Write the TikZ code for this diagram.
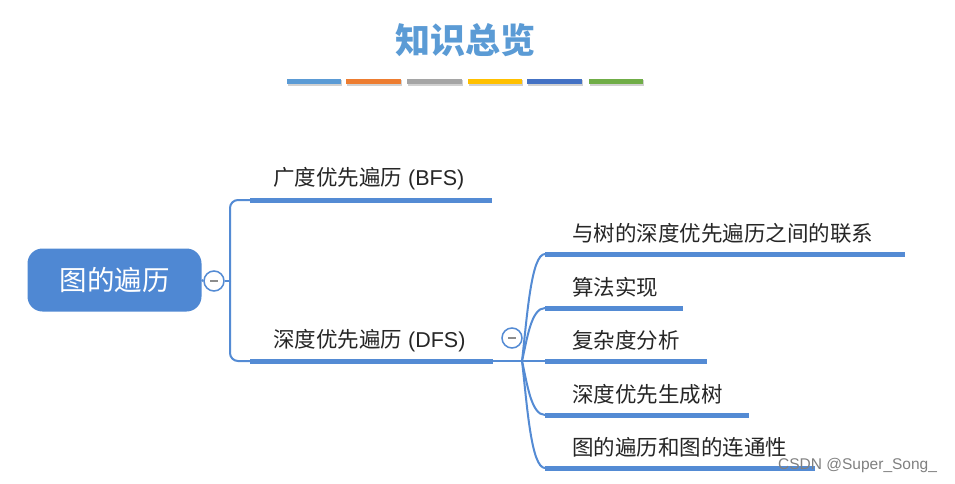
\documentclass[tikz,border=0pt]{standalone}
\usepackage{fontspec}
\setmainfont{Noto Sans CJK SC}
\newfontfamily\wmfont{Liberation Sans}
\definecolor{mapblue}{RGB}{84,139,212}
\definecolor{rootblue}{RGB}{79,136,211}
\definecolor{titleblue}{RGB}{91,155,213}
\definecolor{barA}{RGB}{91,155,213}
\definecolor{barB}{RGB}{237,125,49}
\definecolor{barC}{RGB}{165,165,165}
\definecolor{barD}{RGB}{255,192,0}
\definecolor{barE}{RGB}{68,114,196}
\definecolor{barF}{RGB}{112,173,71}
\begin{document}
\begin{tikzpicture}[x=1pt,y=-1pt,
  thinconn/.style={draw=mapblue, line width=2pt},
  underline/.style={draw=mapblue, line width=5pt},
  topictext/.style={anchor=west, inner sep=0pt, font=\fontsize{21.5}{26}\selectfont, text=black!85},
  collapser/.style={circle, draw=mapblue, line width=1.5pt, fill=white, minimum size=20pt, inner sep=0pt},
  minussign/.style={draw=black!45, line width=1.3pt}
]
\useasboundingbox (0,0) rectangle (955,484);
\fill[white] (0,0) rectangle (955,484);

% title
\node[font=\fontsize{35}{40}\selectfont\bfseries, text=titleblue, inner sep=0pt] (title) at (465,40) {知识总览};

% coloured bars
\foreach \xa/\xb/\c in {287/341/barA, 346/401/barB, 407/462/barC, 468/522/barD, 527/582/barE, 589/643/barF}{
  \fill[black!18] (\xa+1,80.5) rectangle (\xb+1,86.5);
  \fill[\c] (\xa,79) rectangle (\xb,84.5);
}

% root
\node[rounded corners=15pt, fill=rootblue, minimum width=174pt, minimum height=63pt,
      text=white, font=\fontsize{27.5}{32}\selectfont, inner sep=0pt] (root) at (114.5,280) {图的遍历};
\node[collapser] (c1) at (214,281) {};
\draw[minussign] ([xshift=-4pt]c1.center) -- ([xshift=4pt]c1.center);

% level 1
\coordinate (j1) at (230,281);
\coordinate (bfsL) at (250,200);
\coordinate (bfsR) at (492,200);
\coordinate (dfsL) at (250,361);
\coordinate (dfsR) at (493,361);
\node[topictext] (bfs) at (273,179) {广度优先遍历{\wmfont\ (BFS)}};
\node[topictext] (dfs) at (273,341) {深度优先遍历{\wmfont\ (DFS)}};

\draw[thinconn] (root.east) -- (c1.west);
\draw[thinconn] (c1.east) -- (j1);
\draw[thinconn, rounded corners=8pt] (j1) |- (bfsL);
\draw[thinconn, rounded corners=8pt] (j1) |- (dfsL);
\draw[underline] (bfsL) -- (bfsR);
\draw[underline] (dfsL) -- (dfsR);

% level 2
\coordinate (j2) at (522,361);
\node[collapser] (c2) at (512,338) {};
\draw[minussign] ([xshift=-4pt]c2.center) -- ([xshift=4pt]c2.center);
\draw[thinconn] (dfsR) -- (j2);

\foreach \i/\y/\xe/\t in {1/254/905/与树的深度优先遍历之间的联系, 2/308/683/算法实现, 3/361/707/复杂度分析, 4/415/749/深度优先生成树, 5/468/815/图的遍历和图的连通性}{
  \coordinate (k\i L) at (545,\y);
  \coordinate (k\i R) at (\xe,\y);
  \node[topictext] (k\i) at (572,\y-21) {\t};
  \draw[thinconn] (j2) .. controls (527,{361-0.4*(361-\y)}) and (531,\y) .. (k\i L);
  \draw[underline] (k\i L) -- (k\i R);
}

% watermark
\node[anchor=west, inner sep=0pt, font=\wmfont\fontsize{15.5}{18}\selectfont, text=black!50] (wm) at (778,465) {CSDN @Super\_Song\_};
\end{tikzpicture}
\end{document}
